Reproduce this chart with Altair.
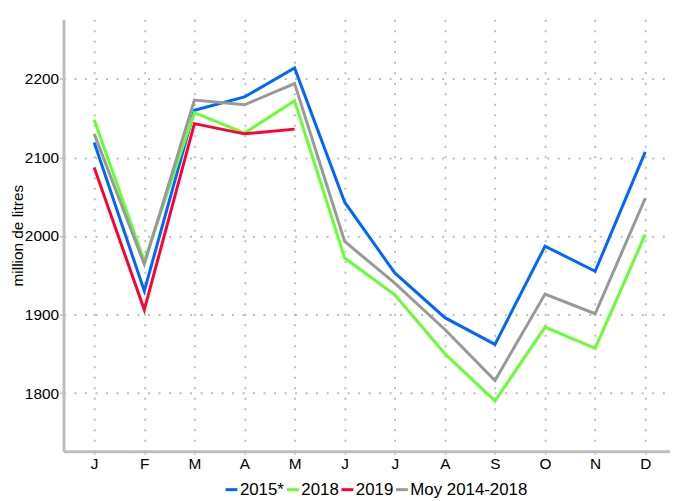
import altair as alt
import pandas as pd

months = list(range(1, 13))
month_letters = ["J", "F", "M", "A", "M", "J", "J", "A", "S", "O", "N", "D"]
series_names = ["2015*", "2018", "2019", "Moy 2014-2018"]
series_colors = ["#0066ff", "#66ff33", "#ff0033", "#999999"]

v2015 = [2119, 1930, 2160, 2177, 2214, 2043, 1953, 1896, 1862, 1987, 1955, 2107]
v2018 = [2148, 1968, 2157, 2131, 2172, 1972, 1925, 1850, 1790, 1884, 1857, 2002]
v2019 = [2087, 1906, 2143, 2130, 2136]
vmoy = [2130, 1964, 2173, 2167, 2194, 1993, 1940, 1881, 1816, 1926, 1901, 2048]

y_ticks = [1800, 1900, 2000, 2100, 2200]

rows = []
for name, vals in zip(series_names, [v2015, v2018, v2019, vmoy]):
    for m, v in zip(months, vals):
        rows.append({"mois": m, "valeur": v, "serie": name})
df = pd.DataFrame(rows)

label_expr = "[" + ",".join("'%s'" % l for l in month_letters) + "][datum.value - 1]"

FONT = "Liberation Sans"
AXIS_GRAY = "#bebebe"

chart = alt.Chart(df).mark_line(strokeWidth=3, strokeJoin="miter").encode(
    x=alt.X(
        "mois:Q",
        scale=alt.Scale(domain=[0.387, 12.494], nice=False, zero=False),
        axis=alt.Axis(
            values=months, labelExpr=label_expr, title=None,
            ticks=True, tickSize=3, tickColor=AXIS_GRAY, tickWidth=1.5,
            grid=True, gridDash=[2, 8.6], gridWidth=2, gridColor="#bdbdbd",
            domainColor=AXIS_GRAY, domainWidth=3, labelPadding=2,
            labelFontSize=15.5, labelColor="#000000", labelFont=FONT,
        ),
    ),
    y=alt.Y(
        "valeur:Q",
        scale=alt.Scale(domain=[1726, 2276], nice=False, zero=False),
        axis=alt.Axis(
            values=y_ticks, format="d", title="million de litres",
            ticks=True, tickSize=4, tickColor=AXIS_GRAY, tickWidth=1.5,
            grid=True, gridDash=[2, 8.6], gridWidth=2, gridColor="#bdbdbd",
            domainColor=AXIS_GRAY, domainWidth=3, labelPadding=1,
            labelFontSize=15.5, labelColor="#000000", labelFont=FONT,
            titleFont=FONT, titleFontSize=15.5, titleFontWeight="normal",
            titleColor="#000000", titlePadding=-1,
        ),
    ),
    color=alt.Color(
        "serie:N",
        scale=alt.Scale(domain=series_names, range=series_colors),
        legend=alt.Legend(
            title=None, orient="none", direction="horizontal",
            legendX=161, legendY=466,
            symbolType="stroke", symbolStrokeWidth=3, symbolSize=144,
            labelFontSize=17, labelFont=FONT, labelColor="#000000",
            labelOffset=0, columnPadding=-9.6,
        ),
    ),
    order=alt.Order("mois:Q"),
).properties(
    width=612, height=436,
    autosize=alt.AutoSizeParams(type="none"),
    padding={"left": 56, "top": 9, "right": 0, "bottom": 52},
).configure_view(stroke=None)

chart.save("out.html", embed_options={"renderer": "svg", "actions": False})
